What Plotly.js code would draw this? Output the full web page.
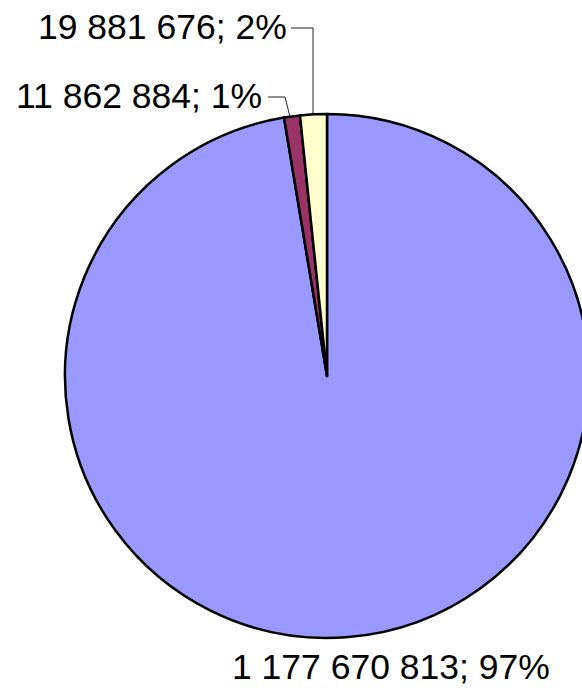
<!DOCTYPE html>
<html>
<head>
<meta charset="utf-8">
<script src="https://cdn.plot.ly/plotly-3.0.1.min.js"></script>
<style>
html,body{margin:0;padding:0;overflow:hidden;background:#fff;width:582px;height:694px;}
#chart{width:654px;height:694px;}
</style>
</head>
<body>
<div id="chart"></div>
<script>
var categories = ['A', 'B', 'C'];
var values = [1177670813, 11862884, 19881676];
var colors = ['#9999FF', '#993366', '#FFFFCC'];

var W = 654, H = 694;
function fmt(n){ return String(n).replace(/\B(?=(\d{3})+(?!\d))/g, ' '); }
var total = values.reduce(function(a,b){return a+b;}, 0);
var labels = values.map(function(v){ return fmt(v) + '; ' + Math.round(v/total*100) + '%'; });

function px(x){ return x / W; }
function py(y){ return 1 - y / H; }

var trace = {
  type: 'pie',
  labels: categories,
  values: values,
  sort: false,
  direction: 'clockwise',
  rotation: 0,
  textinfo: 'none',
  hoverinfo: 'none',
  marker: {colors: colors, line: {color: '#000000', width: 2.5}},
  domain: {x: [0, 1], y: [py(638), py(114)]},
  showlegend: false
};

var font = {family: 'Liberation Sans, Arial, sans-serif', size: 35.5, color: '#000000'};
var annotations = [
  {xref:'paper', yref:'paper', x: px(391), y: py(667), xanchor:'center', yanchor:'middle', text: labels[0], showarrow:false, font: font},
  {xref:'paper', yref:'paper', x: px(264), y: py(96), xanchor:'right', yanchor:'middle', text: labels[1], showarrow:false, font: font},
  {xref:'paper', yref:'paper', x: px(289), y: py(27), xanchor:'right', yanchor:'middle', text: labels[2], showarrow:false, font: font}
];

var lineStyle = {color: '#222222', width: 1};
var shapes = [
  {type:'path', xref:'paper', yref:'paper', line: lineStyle,
   path: 'M ' + px(268) + ' ' + py(97) + ' L ' + px(285) + ' ' + py(97) + ' L ' + px(290) + ' ' + py(117)},
  {type:'path', xref:'paper', yref:'paper', line: lineStyle,
   path: 'M ' + px(291) + ' ' + py(28) + ' L ' + px(313) + ' ' + py(28) + ' L ' + px(313) + ' ' + py(114)}
];

var layout = {
  width: W, height: H,
  margin: {l: 0, r: 0, t: 0, b: 0},
  paper_bgcolor: '#ffffff',
  annotations: annotations,
  shapes: shapes,
  showlegend: false
};

Plotly.newPlot('chart', [trace], layout, {staticPlot: true, displayModeBar: false});
</script>
</body>
</html>
